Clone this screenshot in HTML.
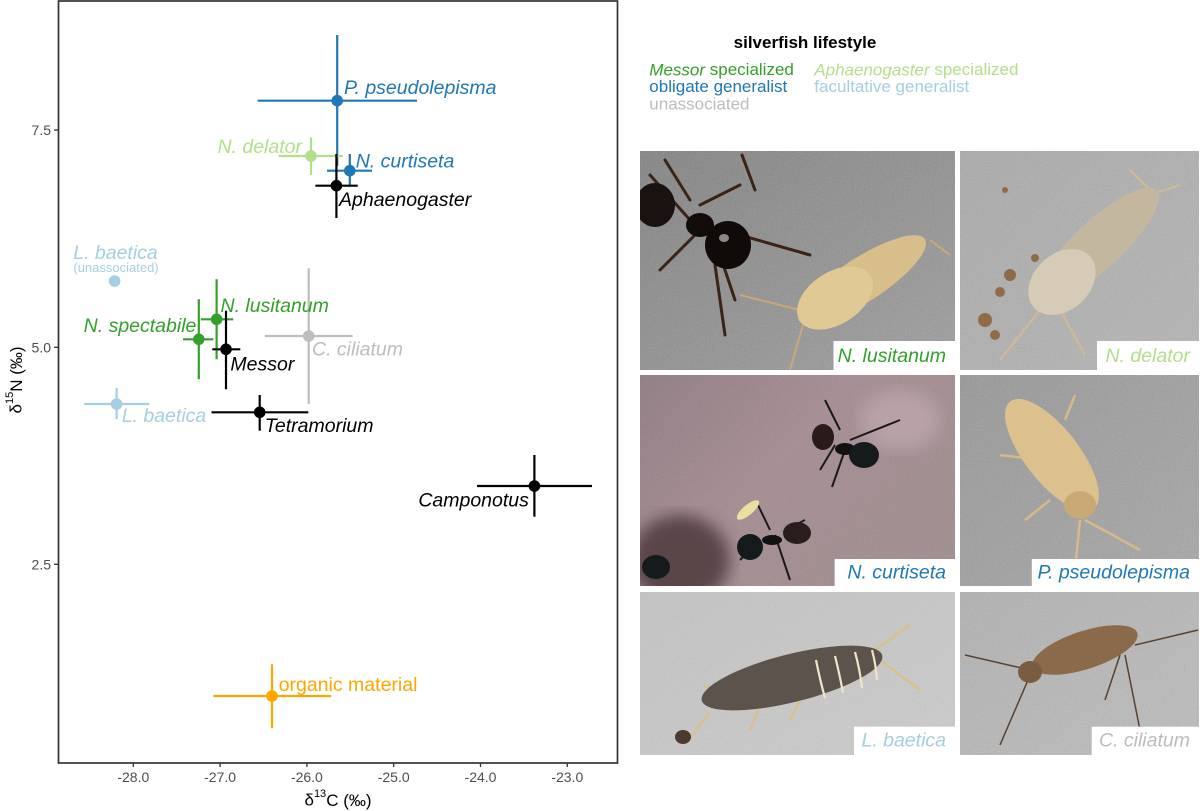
<!DOCTYPE html>
<html><head><meta charset="utf-8"><style>
html,body{margin:0;padding:0;background:#fff;}
svg{display:block;}
text{font-family:"Liberation Sans",Arial,sans-serif;}
.it{font-style:italic;font-size:19.5px;}
.tk{font-size:14px;fill:#4d4d4d;}
.lg{font-size:17px;}
</style></head><body>
<svg width="1200" height="811" viewBox="0 0 1200 811" xmlns="http://www.w3.org/2000/svg">
<defs>
<filter id="noise" x="0" y="0" width="100%" height="100%">
<feTurbulence type="fractalNoise" baseFrequency="0.9" numOctaves="2" seed="3"/>
<feColorMatrix type="saturate" values="0"/>
<feComponentTransfer><feFuncA type="table" tableValues="0 0.35"/></feComponentTransfer>
</filter>
<filter id="blur2"><feGaussianBlur stdDeviation="2"/></filter>
<filter id="blur6"><feGaussianBlur stdDeviation="8"/></filter>
<clipPath id="c1"><rect x="640" y="151" width="315" height="219"/></clipPath>
<clipPath id="c2"><rect x="960" y="151" width="239" height="219"/></clipPath>
<clipPath id="c3"><rect x="640" y="375" width="315" height="211"/></clipPath>
<clipPath id="c4"><rect x="960" y="375" width="239" height="211"/></clipPath>
<clipPath id="c5"><rect x="640" y="592" width="315" height="163"/></clipPath>
<clipPath id="c6"><rect x="960" y="592" width="239" height="163"/></clipPath>
<linearGradient id="g1" x1="0" y1="0" x2="1" y2="1"><stop offset="0" stop-color="#7f7f7f"/><stop offset="1" stop-color="#9c9c9c"/></linearGradient>
<linearGradient id="g2" x1="0" y1="0" x2="1" y2="1"><stop offset="0" stop-color="#a9a9a9"/><stop offset="1" stop-color="#b4b4b4"/></linearGradient>
<linearGradient id="g3" x1="0" y1="0" x2="1" y2="0.6"><stop offset="0" stop-color="#8e7880"/><stop offset="0.5" stop-color="#a48a90"/><stop offset="1" stop-color="#9e8a8c"/></linearGradient>
<linearGradient id="g4" x1="0" y1="0" x2="1" y2="1"><stop offset="0" stop-color="#959595"/><stop offset="1" stop-color="#a6a6a6"/></linearGradient>
<linearGradient id="g5" x1="0" y1="0" x2="1" y2="1"><stop offset="0" stop-color="#c4c4c4"/><stop offset="1" stop-color="#cdcdcd"/></linearGradient>
<linearGradient id="g6" x1="0" y1="0" x2="1" y2="1"><stop offset="0" stop-color="#b0b0b0"/><stop offset="1" stop-color="#bdbdbd"/></linearGradient>
</defs>

<!-- ===== Plot panel ===== -->
<rect x="58.5" y="1" width="559" height="762" fill="#fff" stroke="#333" stroke-width="1.7"/>

<!-- y ticks -->
<g stroke="#333" stroke-width="1.3">
<line x1="54" y1="130" x2="58" y2="130"/>
<line x1="54" y1="347.3" x2="58" y2="347.3"/>
<line x1="54" y1="564.3" x2="58" y2="564.3"/>
<line x1="133.3" y1="763" x2="133.3" y2="767"/>
<line x1="220.1" y1="763" x2="220.1" y2="767"/>
<line x1="306.9" y1="763" x2="306.9" y2="767"/>
<line x1="393.7" y1="763" x2="393.7" y2="767"/>
<line x1="480.5" y1="763" x2="480.5" y2="767"/>
<line x1="567.3" y1="763" x2="567.3" y2="767"/>
</g>
<g class="tk" text-anchor="end" dominant-baseline="central">
<text x="51" y="130">7.5</text>
<text x="51" y="347.3">5.0</text>
<text x="51" y="564.3">2.5</text>
</g>
<g class="tk" text-anchor="middle" dominant-baseline="central">
<text x="133.3" y="777">-28.0</text>
<text x="220.1" y="777">-27.0</text>
<text x="306.9" y="777">-26.0</text>
<text x="393.7" y="777">-25.0</text>
<text x="480.5" y="777">-24.0</text>
<text x="567.3" y="777">-23.0</text>
</g>
<!-- axis titles -->
<text x="338" y="800" text-anchor="middle" dominant-baseline="central" font-size="17" fill="#000">δ<tspan font-size="11" dy="-6">13</tspan><tspan dy="6">C (‰)</tspan></text>
<text transform="translate(16,380) rotate(-90)" text-anchor="middle" dominant-baseline="central" font-size="17" fill="#000">δ<tspan font-size="11" dy="-6">15</tspan><tspan dy="6">N (‰)</tspan></text>

<!-- error bars -->
<g stroke-width="2.2" fill="none">
<g stroke="#1f78b4">
<line x1="257.7" y1="100.7" x2="417" y2="100.7"/><line x1="337.2" y1="35" x2="337.2" y2="166"/>
</g>
<g stroke="#b2df8a">
<line x1="278.7" y1="156" x2="343" y2="156"/><line x1="311" y1="137.3" x2="311" y2="175"/>
</g>
<g stroke="#1f78b4">
<line x1="327" y1="170.7" x2="372" y2="170.7"/><line x1="349.8" y1="154" x2="349.8" y2="186.7"/>
</g>
<g stroke="#000">
<line x1="315.4" y1="185.7" x2="357.7" y2="185.7"/><line x1="336.4" y1="154" x2="336.4" y2="218"/>
</g>
<g stroke="#bdbdbd">
<line x1="264.8" y1="336" x2="352.6" y2="336"/><line x1="308.7" y1="268.3" x2="308.7" y2="404"/>
</g>
<g stroke="#33a02c">
<line x1="200.8" y1="319.3" x2="233.2" y2="319.3"/><line x1="216.6" y1="279.3" x2="216.6" y2="359.3"/>
<line x1="183" y1="339.3" x2="213.4" y2="339.3"/><line x1="198.8" y1="299.3" x2="198.8" y2="379.3"/>
</g>
<g stroke="#000">
<line x1="212.3" y1="349.3" x2="240.3" y2="349.3"/><line x1="226" y1="310.7" x2="226" y2="389.3"/>
<line x1="211.5" y1="412.3" x2="308.3" y2="412.3"/><line x1="259.7" y1="395" x2="259.7" y2="430.7"/>
<line x1="477" y1="486" x2="592" y2="486"/><line x1="534.4" y1="455" x2="534.4" y2="516.7"/>
</g>
<g stroke="#a6cee3">
<line x1="84.2" y1="404" x2="149.4" y2="404"/><line x1="116.6" y1="388" x2="116.6" y2="419.3"/>
</g>
<g stroke="#ffa500">
<line x1="213.4" y1="696" x2="331.2" y2="696"/><line x1="272" y1="664.3" x2="272" y2="728.3"/>
</g>
</g>

<!-- points -->
<g>
<circle cx="337.2" cy="100.7" r="5.8" fill="#1f78b4"/>
<circle cx="311" cy="156" r="5.8" fill="#b2df8a"/>
<circle cx="349.8" cy="170.7" r="5.8" fill="#1f78b4"/>
<circle cx="336.4" cy="185.7" r="5.8" fill="#000"/>
<circle cx="114.6" cy="281" r="5.8" fill="#a6cee3"/>
<circle cx="308.7" cy="336" r="5.8" fill="#bdbdbd"/>
<circle cx="216.6" cy="319.3" r="5.8" fill="#33a02c"/>
<circle cx="198.8" cy="339.3" r="5.8" fill="#33a02c"/>
<circle cx="226" cy="349.3" r="5.8" fill="#000"/>
<circle cx="116.6" cy="404" r="5.8" fill="#a6cee3"/>
<circle cx="259.7" cy="412.3" r="5.8" fill="#000"/>
<circle cx="534.4" cy="486" r="5.8" fill="#000"/>
<circle cx="272" cy="696" r="5.8" fill="#ffa500"/>
</g>

<!-- point labels -->
<g class="it" dominant-baseline="central">
<text x="344" y="88" fill="#1f78b4">P. pseudolepisma</text>
<text x="302" y="147" fill="#b2df8a" text-anchor="end">N. delator</text>
<text x="355.7" y="161.7" fill="#1f78b4">N. curtiseta</text>
<text x="339" y="200" fill="#000">Aphaenogaster</text>
<text x="115.5" y="253" fill="#a6cee3" text-anchor="middle">L. baetica</text>
<text x="220.5" y="306" fill="#33a02c">N. lusitanum</text>
<text x="196.4" y="326" fill="#33a02c" text-anchor="end">N. spectabile</text>
<text x="230.4" y="364.3" fill="#000">Messor</text>
<text x="312" y="349.3" fill="#bdbdbd">C. ciliatum</text>
<text x="121.7" y="416" fill="#a6cee3">L. baetica</text>
<text x="264.8" y="426" fill="#000">Tetramorium</text>
<text x="528.9" y="500.7" fill="#000" text-anchor="end">Camponotus</text>
</g>
<text x="116" y="267.7" font-size="13" fill="#a6cee3" text-anchor="middle" dominant-baseline="central">(unassociated)</text>
<text x="278.7" y="685" font-size="19.5" fill="#ffa500" dominant-baseline="central">organic material</text>

<!-- ===== Legend ===== -->
<text x="805" y="42.7" font-size="17" font-weight="bold" text-anchor="middle" dominant-baseline="central" fill="#000">silverfish lifestyle</text>
<g class="lg" dominant-baseline="central">
<text x="649.3" y="69.3" fill="#33a02c"><tspan font-style="italic">Messor</tspan> specialized</text>
<text x="649.3" y="86.7" fill="#1f78b4">obligate generalist</text>
<text x="649.3" y="104" fill="#bdbdbd">unassociated</text>
<text x="814.3" y="69.3" fill="#b2df8a"><tspan font-style="italic">Aphaenogaster</tspan> specialized</text>
<text x="814.3" y="86.7" fill="#a6cee3">facultative generalist</text>
</g>

<!-- ===== Photos ===== -->
<!-- Photo 1: N. lusitanum -->
<g clip-path="url(#c1)">
<rect x="640" y="151" width="315" height="219" fill="url(#g1)"/>
<rect x="640" y="151" width="315" height="219" filter="url(#noise)"/>
<g stroke="#3a2418" stroke-width="3" fill="none" stroke-linecap="round">
<path d="M650 175 L690 220"/><path d="M665 160 L690 200"/><path d="M700 230 L660 270"/>
<path d="M720 255 L735 300"/><path d="M740 235 L810 255"/><path d="M715 265 L725 335"/>
<path d="M742 155 L755 190"/><path d="M700 205 L740 185"/>
</g>
<ellipse cx="655" cy="205" rx="20" ry="22" fill="#1a1210"/>
<ellipse cx="700" cy="225" rx="14" ry="12" fill="#120c0a"/>
<ellipse cx="728" cy="245" rx="23" ry="24" fill="#100a08"/>
<ellipse cx="724" cy="238" rx="5" ry="4" fill="#888"/>
<g stroke="#c8a878" stroke-width="2" fill="none">
<path d="M800 310 L740 295"/><path d="M805 318 L790 370"/><path d="M930 240 L950 255"/>
</g>
<ellipse cx="862" cy="280" rx="75" ry="22" transform="rotate(-33 862 280)" fill="#d7be8a"/>
<ellipse cx="835" cy="298" rx="42" ry="26" transform="rotate(-33 835 298)" fill="#e0c994"/>
</g>
<rect x="833.5" y="341" width="122" height="29" fill="#fff"/>
<text x="946" y="356" class="it" text-anchor="end" dominant-baseline="central" fill="#33a02c">N. lusitanum</text>

<!-- Photo 2: N. delator -->
<g clip-path="url(#c2)">
<rect x="960" y="151" width="239" height="219" fill="url(#g2)"/>
<rect x="960" y="151" width="239" height="219" filter="url(#noise)"/>
<g fill="#8a5a30" opacity="0.8">
<circle cx="1010" cy="275" r="6"/><circle cx="1000" cy="292" r="5"/><circle cx="985" cy="320" r="7"/><circle cx="995" cy="335" r="5"/><circle cx="1035" cy="258" r="4"/><circle cx="1005" cy="190" r="3"/>
</g>
<g stroke="#cbb99a" stroke-width="2.5" fill="none">
<path d="M1040 310 L1000 360"/><path d="M1060 310 L1085 355"/><path d="M1150 195 L1180 185"/><path d="M1150 190 L1130 170"/>
</g>
<ellipse cx="1098" cy="245" rx="80" ry="24" transform="rotate(-43 1098 245)" fill="#c4b7a0"/>
<ellipse cx="1062" cy="282" rx="38" ry="28" transform="rotate(-43 1062 282)" fill="#d6cbb6"/>
</g>
<rect x="1097" y="341" width="102" height="29" fill="#fff"/>
<text x="1190" y="356" class="it" text-anchor="end" dominant-baseline="central" fill="#b2df8a">N. delator</text>

<!-- Photo 3: N. curtiseta -->
<g clip-path="url(#c3)">
<rect x="640" y="375" width="315" height="211" fill="url(#g3)"/>
<rect x="640" y="375" width="315" height="211" filter="url(#noise)" opacity="0.7"/>
<ellipse cx="680" cy="560" rx="50" ry="45" fill="#5a4548" filter="url(#blur6)"/>
<ellipse cx="900" cy="420" rx="40" ry="30" fill="#b8a2a8" filter="url(#blur6)"/>
<g stroke="#1a1a1a" stroke-width="2" fill="none">
<path d="M840 430 L830 410 L825 400"/><path d="M850 440 L900 420"/><path d="M835 445 L820 470"/><path d="M845 450 L832 487"/>
<path d="M770 530 L758 505"/><path d="M775 535 L790 580"/><path d="M760 540 L740 560"/><path d="M785 530 L805 520"/>
</g>
<ellipse cx="823" cy="437" rx="11" ry="13" fill="#2a1a1a"/>
<ellipse cx="845" cy="449" rx="10" ry="6" fill="#111"/>
<ellipse cx="864" cy="455" rx="15" ry="13" fill="#151a1c"/>
<ellipse cx="750" cy="547" rx="13" ry="13" fill="#151a1c"/>
<ellipse cx="772" cy="540" rx="10" ry="5" fill="#111"/>
<ellipse cx="797" cy="533" rx="14" ry="11" fill="#2a1d1e"/>
<ellipse cx="656" cy="567" rx="14" ry="12" fill="#151a1c"/>
<ellipse cx="748" cy="510" rx="14" ry="5" transform="rotate(-40 748 510)" fill="#e8dfa0"/>
</g>
<rect x="834.6" y="559" width="121" height="27" fill="#fff"/>
<text x="946" y="572.7" class="it" text-anchor="end" dominant-baseline="central" fill="#1f78b4">N. curtiseta</text>

<!-- Photo 4: P. pseudolepisma -->
<g clip-path="url(#c4)">
<rect x="960" y="375" width="239" height="211" fill="url(#g4)"/>
<rect x="960" y="375" width="239" height="211" filter="url(#noise)"/>
<g stroke="#d4b98a" stroke-width="2.5" fill="none">
<path d="M1080 520 L1075 570"/><path d="M1085 520 L1140 550"/><path d="M1040 460 L1000 455"/><path d="M1065 420 L1075 395"/><path d="M1050 500 L1025 520"/>
</g>
<ellipse cx="1052" cy="455" rx="68" ry="27" transform="rotate(52 1052 455)" fill="#dcc18e"/>
<ellipse cx="1080" cy="505" rx="16" ry="14" fill="#caa976"/>
</g>
<rect x="1031.8" y="559" width="168" height="27" fill="#fff"/>
<text x="1190" y="572.7" class="it" text-anchor="end" dominant-baseline="central" fill="#1f78b4">P. pseudolepisma</text>

<!-- Photo 5: L. baetica -->
<g clip-path="url(#c5)">
<rect x="640" y="592" width="315" height="163" fill="url(#g5)"/>
<rect x="640" y="592" width="315" height="163" filter="url(#noise)" opacity="0.8"/>
<g stroke="#d8c090" stroke-width="2.5" fill="none">
<path d="M718 700 L705 685"/><path d="M710 712 L690 738"/><path d="M880 660 L920 690"/><path d="M875 650 L910 625"/><path d="M800 700 L790 720"/><path d="M760 705 L750 730"/>
</g>
<ellipse cx="792" cy="678" rx="93" ry="24" transform="rotate(-14 792 678)" fill="#5c544c"/>
<g stroke="#efe6c8" stroke-width="2.2" fill="none">
<path d="M816 660 Q820 680 825 698"/><path d="M835 656 Q840 676 843 693"/><path d="M855 652 Q860 670 862 688"/><path d="M872 650 Q876 665 877 680"/>
</g>
<ellipse cx="683" cy="737" rx="8" ry="7" fill="#4a3a30"/>
</g>
<rect x="854" y="726.7" width="101" height="28.3" fill="#fff"/>
<text x="946" y="740.7" class="it" text-anchor="end" dominant-baseline="central" fill="#a6cee3">L. baetica</text>

<!-- Photo 6: C. ciliatum -->
<g clip-path="url(#c6)">
<rect x="960" y="592" width="239" height="163" fill="url(#g6)"/>
<rect x="960" y="592" width="239" height="163" filter="url(#noise)"/>
<g stroke="#5a4030" stroke-width="1.5" fill="none">
<path d="M1030 670 L965 655"/><path d="M1028 680 L1000 745"/><path d="M1135 645 L1198 630"/><path d="M1125 655 L1140 730"/><path d="M1120 655 L1105 700"/>
</g>
<ellipse cx="1085" cy="650" rx="55" ry="19" transform="rotate(-18 1085 650)" fill="#8a6a4a"/>
<ellipse cx="1030" cy="672" rx="12" ry="11" fill="#7a5c40"/>
</g>
<rect x="1091.7" y="726.7" width="108" height="28.3" fill="#fff"/>
<text x="1190" y="740.7" class="it" text-anchor="end" dominant-baseline="central" fill="#bdbdbd">C. ciliatum</text>
</svg>
</body></html>
